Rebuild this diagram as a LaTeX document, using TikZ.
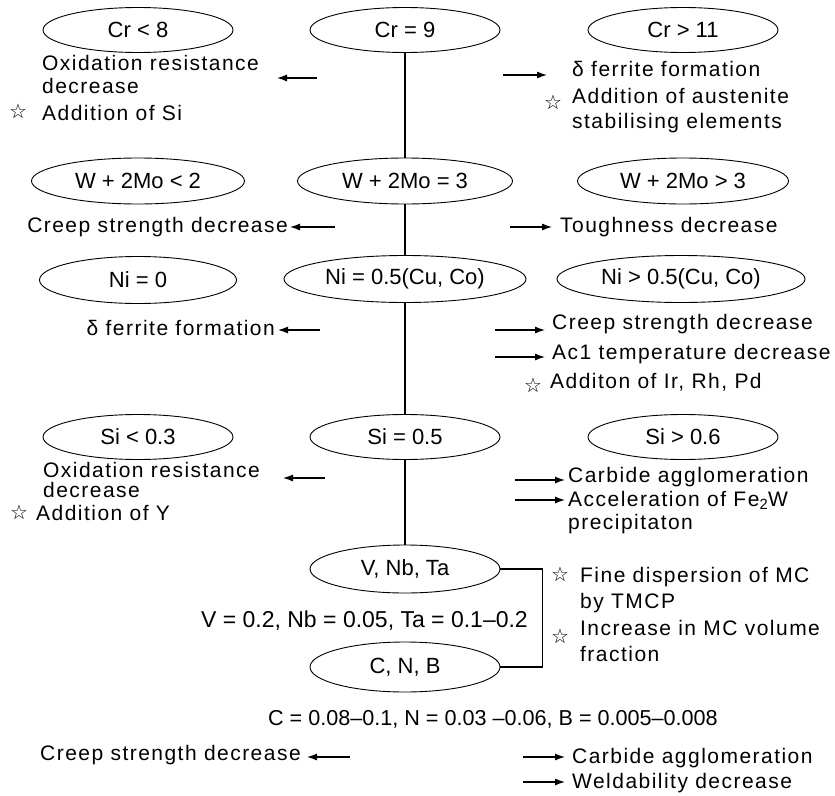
\documentclass[tikz,border=0pt]{standalone}
\usepackage{fontspec}
\setmainfont[LetterSpace=7]{Liberation Sans}
\newfontfamily\ellfont{Liberation Sans}
\newfontfamily\symfont{DejaVu Sans}
\usetikzlibrary{arrows.meta,shapes.geometric}
\begin{document}
\begin{tikzpicture}[x=1pt,y=-1pt,
  ell/.style={draw, ellipse, line width=0.9pt, inner sep=0pt, minimum width=190pt, minimum height=45pt, font=\ellfont\fontsize{22}{24}\selectfont},
  txt/.style={anchor=base west, inner sep=0pt, font=\fontsize{21}{24}\selectfont},
  txtr/.style={anchor=base east, inner sep=0pt, font=\fontsize{21}{24}\selectfont},
  val/.style={inner sep=0pt, font=\ellfont\fontsize{22}{24}\selectfont},
  starn/.style={inner sep=0pt, font=\symfont\fontsize{20}{20}\selectfont},
  arr/.style={line width=1.2pt, -{Latex[length=10pt,width=7pt]}},
  link/.style={line width=1.3pt}]
\useasboundingbox (0,0) rectangle (835,795);

% ellipses
\node[ell] (cr8) at (138,30) {Cr < 8};
\node[ell] (cr9) at (405,30) {Cr = 9};
\node[ell] (cr11) at (683,30) {Cr > 11};
\node[ell, minimum width=213pt, minimum height=46pt] (w2) at (138,181) {W + 2Mo < 2};
\node[ell, minimum width=215pt, minimum height=46pt] (w3) at (405,181) {W + 2Mo = 3};
\node[ell, minimum width=211pt, minimum height=46pt] (w3g) at (683,181) {W + 2Mo > 3};
\node[ell, minimum width=197pt, minimum height=47pt] (ni0) at (138,280) {Ni = 0};
\node[ell, minimum width=242pt, minimum height=47pt] (ni5) at (405,279) {Ni = 0.5(Cu, Co)};
\node[ell, minimum width=248pt, minimum height=47pt] (ni5g) at (681,279) {Ni > 0.5(Cu, Co)};
\node[ell] (si3) at (138,437) {Si < 0.3};
\node[ell] (si5) at (405,437) {Si = 0.5};
\node[ell] (si6) at (683,437) {Si > 0.6};
\node[ell, minimum height=48pt] (vnb) at (405,569) {V, Nb, Ta};
\node[ell, minimum height=50pt] (cnb) at (405,667) {C, N, B};

% spine
\draw[link] (cr9.south) -- (w3.north);
\draw[link] (w3.south) -- (ni5.north);
\draw[link] (ni5.south) -- (si5.north);
\draw[link] (si5.south) -- (vnb.north);
\draw[link] (vnb.east) -- ++(42,0) |- (cnb.east);

% row 1
\node[txt] (t1a) at (42,70) {Oxidation resistance};
\node[txt] (t1b) at (42,93) {decrease};
\node[starn] (s1) at (18,111) {☆};
\node[txt] (t1c) at (42,120) {Addition of Si};
\coordinate (a1s) at (317,78); \coordinate (a1e) at (277,78);
\draw[arr] (a1s) -- (a1e);
\coordinate (a2s) at (503,75); \coordinate (a2e) at (547,75);
\draw[arr] (a2s) -- (a2e);
\node[txt] (t2a) at (572,76) {δ ferrite formation};
\node[starn] (s2) at (553,102) {☆};
\node[txt] (t2b) at (572,103) {Addition of austenite};
\node[txt] (t2c) at (572,128) {stabilising elements};

% row 2
\node[txtr] (t3) at (288,232) {Creep strength decrease};
\coordinate (a3s) at (335,227); \coordinate (a3e) at (290,227);
\draw[arr] (a3s) -- (a3e);
\coordinate (a4s) at (510,227); \coordinate (a4e) at (552,227);
\draw[arr] (a4s) -- (a4e);
\node[txt] (t4) at (560,232) {Toughness decrease};

% row 3
\node[txtr] (t5) at (275,335) {δ ferrite formation};
\coordinate (a5s) at (320,330); \coordinate (a5e) at (278,330);
\draw[arr] (a5s) -- (a5e);
\coordinate (a6s) at (495,330); \coordinate (a6e) at (545,330);
\draw[arr] (a6s) -- (a6e);
\coordinate (a7s) at (495,357); \coordinate (a7e) at (545,357);
\draw[arr] (a7s) -- (a7e);
\node[txt] (t6a) at (552,329) {Creep strength decrease};
\node[txt] (t6b) at (552,359) {Ac1 temperature decrease};
\node[starn] (s3) at (533,385) {☆};
\node[txt] (t6c) at (550,388) {Additon of Ir, Rh, Pd};

% row 4
\node[txt] (t7a) at (43,477) {Oxidation resistance};
\node[txt] (t7b) at (43,497) {decrease};
\node[starn] (s4) at (19,512) {☆};
\node[txt] (t7c) at (36,520) {Addition of Y};
\coordinate (a8s) at (325,478); \coordinate (a8e) at (283,478);
\draw[arr] (a8s) -- (a8e);
\coordinate (a9s) at (515,480); \coordinate (a9e) at (565,480);
\draw[arr] (a9s) -- (a9e);
\coordinate (a10s) at (515,500); \coordinate (a10e) at (565,500);
\draw[arr] (a10s) -- (a10e);
\node[txt] (t8a) at (568,482) {Carbide agglomeration};
\node[txt] (t8b) at (568,506) {Acceleration of Fe\textsubscript{2}W};
\node[txt] (t8c) at (568,529) {precipitaton};

% V Nb Ta / C N B
\node[val, anchor=base east, font=\ellfont\fontsize{23}{24}\selectfont] (v1) at (528,627) {V = 0.2, Nb = 0.05, Ta = 0.1–0.2};
\node[starn] (s5) at (560,574) {☆};
\node[txt] (t9a) at (580,582) {Fine dispersion of MC};
\node[txt] (t9b) at (580,608) {by TMCP};
\node[starn] (s6) at (560,636) {☆};
\node[txt] (t9c) at (580,635) {Increase in MC volume};
\node[txt] (t9d) at (580,661) {fraction};
\node[val, anchor=base east, font=\ellfont\fontsize{21.6}{24}\selectfont] (v2) at (718,725) {C = 0.08–0.1, N = 0.03 –0.06, B = 0.005–0.008};

% bottom
\node[txt] (t10) at (40,760) {Creep strength decrease};
\coordinate (a11s) at (350,757); \coordinate (a11e) at (307,757);
\draw[arr] (a11s) -- (a11e);
\coordinate (a12s) at (523,757); \coordinate (a12e) at (565,757);
\draw[arr] (a12s) -- (a12e);
\coordinate (a13s) at (523,782); \coordinate (a13e) at (565,782);
\draw[arr] (a13s) -- (a13e);
\node[txt] (t11a) at (572,763) {Carbide agglomeration};
\node[txt] (t11b) at (572,788) {Weldability decrease};
\end{tikzpicture}
\end{document}
